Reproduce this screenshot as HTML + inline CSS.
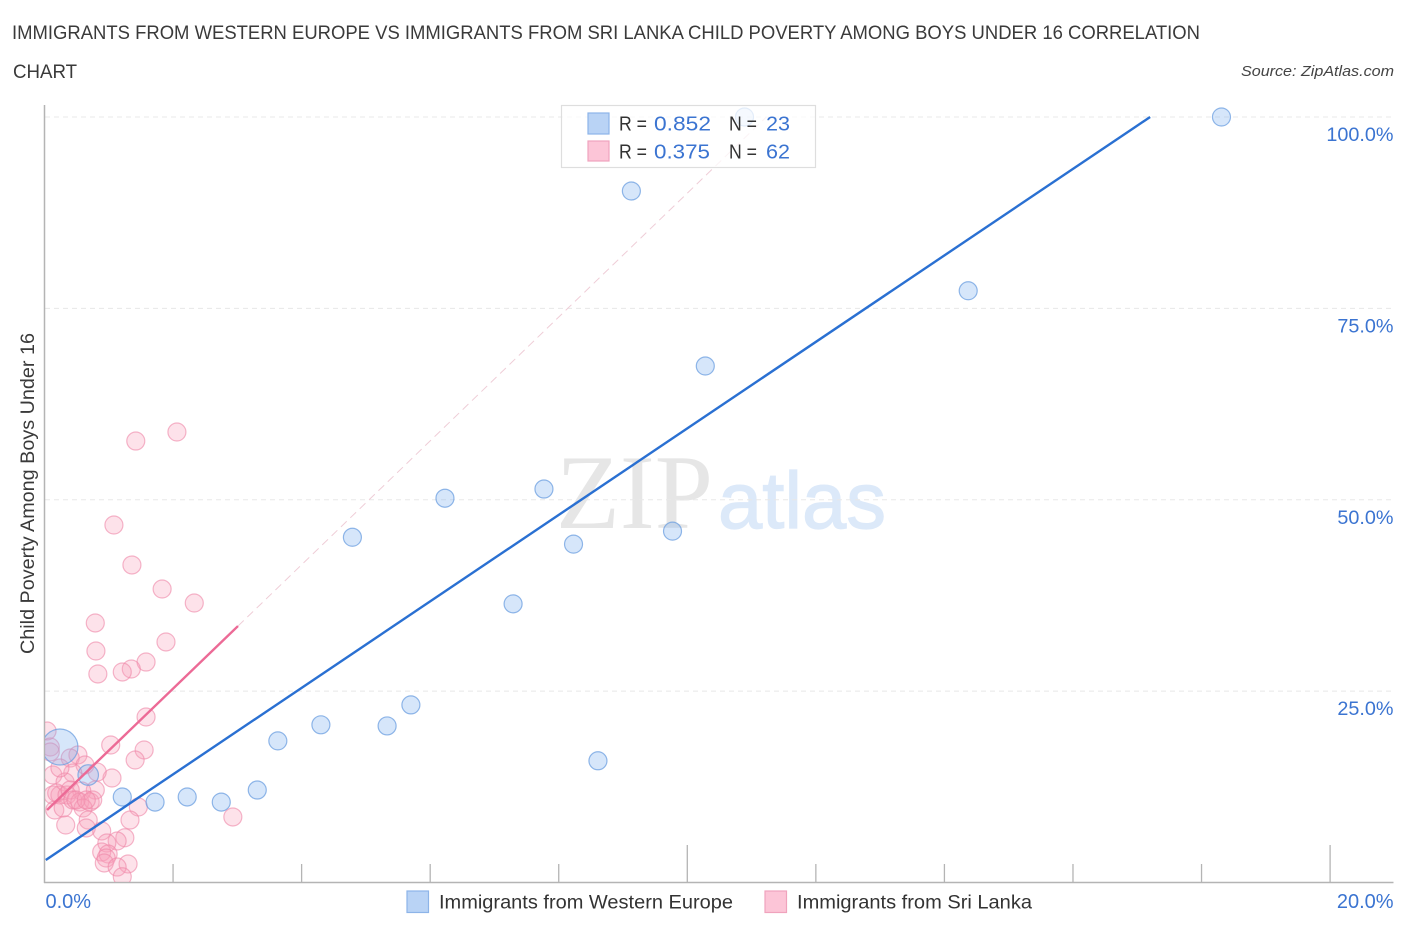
<!DOCTYPE html>
<html lang="en">
<head>
<meta charset="utf-8">
<title>Child Poverty Among Boys Under 16 Correlation Chart</title>
<style>
html,body{margin:0;padding:0;background:#fff;width:1406px;height:930px;overflow:hidden}
svg{display:block;font-family:"Liberation Sans",sans-serif}
</style>
</head>
<body>
<svg id="chart" xmlns="http://www.w3.org/2000/svg" width="1406" height="930" viewBox="0 0 1406 930">
  <defs>
    <clipPath id="plot-clip"><rect x="45" y="95" width="1349" height="787"></rect></clipPath>
  </defs>
  <rect x="0" y="0" width="1406" height="930" fill="#fff"></rect>

  <text x="12" y="39" font-size="19.5" fill="#3a3a3a" textLength="1188" lengthAdjust="spacingAndGlyphs">IMMIGRANTS FROM WESTERN EUROPE VS IMMIGRANTS FROM SRI LANKA CHILD POVERTY AMONG BOYS UNDER 16 CORRELATION</text>
  <text x="13" y="78" font-size="19.5" fill="#3a3a3a" textLength="64" lengthAdjust="spacingAndGlyphs">CHART</text>
  <text x="1241" y="76" font-size="15" font-style="italic" fill="#444" textLength="153" lengthAdjust="spacingAndGlyphs">Source: ZipAtlas.com</text>

  <g>
    <text x="556" y="528" font-family="'Liberation Serif',serif" font-size="106" fill="#e6e6e6" textLength="157" lengthAdjust="spacingAndGlyphs">ZIP</text>
    <text x="718" y="528" font-size="80" fill="#dce9f9" stroke="#dce9f9" stroke-width="1.2" textLength="168" lengthAdjust="spacingAndGlyphs">atlas</text>
  </g>

  <g id="grid"></g>
  <g id="axes"></g>
  <g id="marks" clip-path="url(#plot-clip)"></g>
  <g id="trends" clip-path="url(#plot-clip)"></g>
  <g id="ticklabels"></g>

  <text transform="translate(34,654) rotate(-90)" font-size="19" fill="#3a3a3a" textLength="321" lengthAdjust="spacingAndGlyphs">Child Poverty Among Boys Under 16</text>

  <g>
    <rect x="561.5" y="105.5" width="254" height="62" fill="#fff" fill-opacity="0.75" stroke="#dedede" stroke-width="1.2"></rect>
    <rect x="588" y="113" width="21" height="21" fill="#b9d3f5" stroke="#8db4e8" stroke-width="1.2"></rect>
    <rect x="588" y="141" width="21" height="20" fill="#fcc5d7" stroke="#f0a3bd" stroke-width="1.2"></rect>
    <g font-size="20.5">
      <text x="619" y="130.5" fill="#333" textLength="28" lengthAdjust="spacingAndGlyphs">R =</text>
      <text x="654" y="130.5" fill="#3b74d1" textLength="57" lengthAdjust="spacingAndGlyphs">0.852</text>
      <text x="729" y="130.5" fill="#333" textLength="28" lengthAdjust="spacingAndGlyphs">N =</text>
      <text x="766" y="130.5" fill="#3b74d1" textLength="24" lengthAdjust="spacingAndGlyphs">23</text>
      <text x="619" y="158.5" fill="#333" textLength="28" lengthAdjust="spacingAndGlyphs">R =</text>
      <text x="654" y="158.5" fill="#3b74d1" textLength="56" lengthAdjust="spacingAndGlyphs">0.375</text>
      <text x="729" y="158.5" fill="#333" textLength="28" lengthAdjust="spacingAndGlyphs">N =</text>
      <text x="766" y="158.5" fill="#3b74d1" textLength="24" lengthAdjust="spacingAndGlyphs">62</text>
    </g>
  </g>

  <g>
    <g>
      <rect x="407" y="891" width="21.5" height="21.5" fill="#b9d3f5" stroke="#8db4e8" stroke-width="1.2"></rect>
      <text x="439" y="908.5" font-size="19.5" fill="#333" textLength="294" lengthAdjust="spacingAndGlyphs">Immigrants from Western Europe</text>
    </g>
    <g>
      <rect x="765" y="891" width="21.5" height="21.5" fill="#fcc5d7" stroke="#f0a3bd" stroke-width="1.2"></rect>
      <text x="797" y="908.5" font-size="19.5" fill="#333" textLength="235" lengthAdjust="spacingAndGlyphs">Immigrants from Sri Lanka</text>
    </g>
  </g>
</svg>

<script>
var westernEuropeX = [18.31,10.89,9.13,14.37,10.28,6.23,7.77,4.79,8.23,9.77,7.29,5.70,4.30,5.33,3.63,8.61,0.68,1.21,1.72,2.22,2.75,3.31,0.24];
var westernEuropeY = [100,100,90.33,77.3,67.47,50.2,51.4,45.1,44.2,45.9,36.4,23.2,20.6,20.45,18.5,15.9,14.04,11.17,10.5,11.17,10.5,12.08,17.7];
var westernEuropeWeight = [1,1,1,1,1,1,1,1,1,1,1,1,1,1,1,1,1.3,1,1,1,1,1,4];

var sriLankaX = [2.06,1.42,1.08,1.36,1.83,2.33,0.79,1.89,0.80,1.58,1.35,1.21,0.83,1.58,0.04,1.03,1.55,1.41,1.05,0.09,0.09,0.52,0.40,0.63,0.44,0.13,0.32,0.79,0.58,0.13,0.24,0.19,0.35,0.40,0.16,0.29,0.33,0.44,0.55,0.71,0.75,0.60,0.68,0.65,0.89,1.46,1.33,1.25,1.13,0.97,0.89,0.99,0.96,0.93,1.30,1.13,1.21,2.93,0.49,0.65,0.82,0.24];
var sriLankaY = [58.85,57.67,46.7,41.48,38.34,36.51,33.9,31.42,30.24,28.8,27.89,27.5,27.24,21.62,19.79,17.96,17.31,16.0,13.65,17.7,17.05,16.66,16.26,15.35,14.3,14.04,13.13,12.08,11.95,11.43,11.43,11.69,11.43,12.08,9.47,9.73,7.51,10.78,10.52,10.52,10.78,9.73,8.16,7.12,6.73,9.86,8.16,5.85,5.42,5.16,3.98,3.72,3.2,2.55,2.42,2.02,0.75,8.56,10.78,10.78,14.43,14.96];

var westernEuropeTrendX = [0.02,17.2];
var westernEuropeTrendY = [2.94,100];
var sriLankaTrendX = [0.04,3.01];
var sriLankaTrendY = [9.47,33.5];
var sriLankaExtensionX = [3.01,11.23];
var sriLankaExtensionY = [33.5,100];

var yTickValues = [100,75,50,25];
var yTickLabels = ["100.0%","75.0%","50.0%","25.0%"];
var xTickValues = [2,4,6,8,10,12,14,16,18,20];
var xMajorTicks = [10,20];
var xEndValues = [0,20];
var xEndLabels = ["0.0%","20.0%"];

var NS = "http://www.w3.org/2000/svg";
function xScale(v){ return 44.5 + v * 64.28; }
function yScale(v){ return 882.5 - v * 7.655; }
function make(tag, attrs, parent){
  var el = document.createElementNS(NS, tag);
  for (var k in attrs) el.setAttribute(k, attrs[k]);
  parent.appendChild(el);
  return el;
}
var grid = document.getElementById("grid");
var axes = document.getElementById("axes");
var marks = document.getElementById("marks");
var trends = document.getElementById("trends");
var tickLabels = document.getElementById("ticklabels");

yTickValues.forEach(function(v, i){
  var g = make("line", {x1:45, x2:1393, y1:yScale(v), y2:yScale(v), stroke:"#e8e8e8", "stroke-width":1, "stroke-dasharray":"5 4"}, grid);
  
  
  var t = make("text", {x:1393.5, y:yScale(v)+24, "text-anchor":"end", "font-size":19.8, fill:"#3b74d1"}, tickLabels);
  t.textContent = yTickLabels[i];
  
  
});

var yAxis = make("line", {x1:44.5, x2:44.5, y1:105, y2:883, stroke:"#b4b4b4", "stroke-width":1.5}, axes);


var xAxis = make("line", {x1:44, x2:1393.5, y1:882.5, y2:882.5, stroke:"#b4b4b4", "stroke-width":1.5}, axes);



xTickValues.forEach(function(v){
  var isMajor = xMajorTicks.indexOf(v) >= 0;
  var tick = make("line", {x1:xScale(v), x2:xScale(v), y1:isMajor ? 845 : 864, y2:882, stroke:"#b4b4b4", "stroke-width":1.3}, axes);
  
  
});

xEndValues.forEach(function(v, i){
  var t = make("text", {x:i === 0 ? xScale(v)+1 : xScale(v)+63.5, y:908, "text-anchor":i === 0 ? "start" : "end", "font-size":20, fill:"#3b74d1"}, tickLabels);
  t.textContent = xEndLabels[i];
  
  
});

sriLankaX.forEach(function(v, i){
  var c = make("circle", {cx:xScale(v), cy:yScale(sriLankaY[i]), r:9, fill:"#f7a0bb", "fill-opacity":0.3, stroke:"#ee85a7", "stroke-opacity":0.6, "stroke-width":1.2}, marks);
  
  
});
westernEuropeX.forEach(function(v, i){
  var c = make("circle", {cx:xScale(v), cy:yScale(westernEuropeY[i]), r:9*Math.sqrt(westernEuropeWeight[i]), fill:"#7fb0ee", "fill-opacity":0.32, stroke:"#6c9fe0", "stroke-opacity":0.75, "stroke-width":1.2}, marks);
  
  
});

var ext = make("line", {x1:xScale(sriLankaExtensionX[0]), y1:yScale(sriLankaExtensionY[0]), x2:xScale(sriLankaExtensionX[1]), y2:yScale(sriLankaExtensionY[1]), stroke:"#efcdd7", "stroke-width":1, "stroke-dasharray":"8 5"}, trends);


var trendPink = make("line", {x1:xScale(sriLankaTrendX[0]), y1:yScale(sriLankaTrendY[0]), x2:xScale(sriLankaTrendX[1]), y2:yScale(sriLankaTrendY[1]), stroke:"#ec6a96", "stroke-width":2.4}, trends);


var trendBlue = make("line", {x1:xScale(westernEuropeTrendX[0]), y1:yScale(westernEuropeTrendY[0]), x2:xScale(westernEuropeTrendX[1]), y2:yScale(westernEuropeTrendY[1]), stroke:"#2a70d2", "stroke-width":2.4}, trends);


</script>
</body>
</html>
